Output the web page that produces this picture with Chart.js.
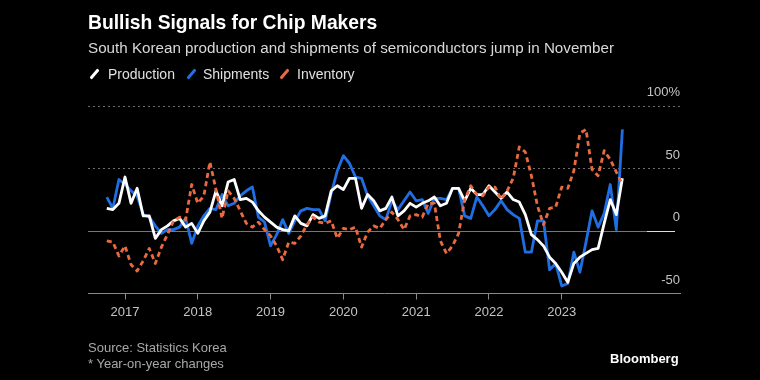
<!DOCTYPE html>
<html><head><meta charset="utf-8">
<script src="https://cdn.jsdelivr.net/npm/chart.js@4/dist/chart.umd.min.js"></script>
<style>
html,body{margin:0;padding:0;background:#000;width:760px;height:380px;overflow:hidden;font-family:"Liberation Sans",Arial,sans-serif;}
#wrap{position:relative;width:760px;height:380px;}
canvas{position:absolute;left:0;top:0;}
.t{position:absolute;white-space:nowrap;line-height:1;}
#title{left:88px;top:13px;font-size:19.3px;font-weight:bold;color:#fff;}
#sub{left:88px;top:40px;font-size:15.2px;color:#d9d9d9;}
.lg{position:absolute;top:67px;font-size:14px;color:#e0e0e0;line-height:1;white-space:nowrap;}
.sw{position:absolute;top:68px;width:3px;height:12px;transform:rotate(40deg);border-radius:1px;}
#src{left:88px;top:341px;font-size:13px;color:#a8a8a8;}
#note{left:88px;top:357px;font-size:13px;color:#a8a8a8;}
#bb{left:610px;top:352px;font-size:13px;font-weight:bold;color:#fff;}
</style></head>
<body><div id="wrap">
<canvas id="c" width="760" height="380"></canvas>
<div class="t" id="title">Bullish Signals for Chip Makers</div>
<div class="t" id="sub">South Korean production and shipments of semiconductors jump in November</div>
<div class="sw" style="left:93px;background:#fff"></div><div class="lg" style="left:108px">Production</div>
<div class="sw" style="left:190px;background:#1f6fe3"></div><div class="lg" style="left:203px">Shipments</div>
<div class="sw" style="left:283px;background:#ea6a3f"></div><div class="lg" style="left:297px">Inventory</div>
<div class="t" id="src">Source: Statistics Korea</div>
<div class="t" id="note">* Year-on-year changes</div>
<div class="t" id="bb">Bloomberg</div>
</div>
<script>
const months = [
 '2016-10','2016-11','2016-12',
 '2017-01','2017-02','2017-03','2017-04','2017-05','2017-06','2017-07','2017-08','2017-09','2017-10','2017-11','2017-12',
 '2018-01','2018-02','2018-03','2018-04','2018-05','2018-06','2018-07','2018-08','2018-09','2018-10','2018-11','2018-12',
 '2019-01','2019-02','2019-03','2019-04','2019-05','2019-06','2019-07','2019-08','2019-09','2019-10','2019-11','2019-12',
 '2020-01','2020-02','2020-03','2020-04','2020-05','2020-06','2020-07','2020-08','2020-09','2020-10','2020-11','2020-12',
 '2021-01','2021-02','2021-03','2021-04','2021-05','2021-06','2021-07','2021-08','2021-09','2021-10','2021-11','2021-12',
 '2022-01','2022-02','2022-03','2022-04','2022-05','2022-06','2022-07','2022-08','2022-09','2022-10','2022-11','2022-12',
 '2023-01','2023-02','2023-03','2023-04','2023-05','2023-06','2023-07','2023-08','2023-09','2023-10','2023-11'
];
const production = [
 18,17,22,
 43,22,34,12,12,-6,1,4,8,10,3,6,
 -2,8,15,32,20,39,41,25,26,23,16,11,
 7,3,1,0,12,6,4,13,10,12,32,36,
 33,42,42,18,29,24,16,18,27,12,16,22,
 19,22,24,27,20,22,34,34,24,34,29,29,
 36,31,26,31,25,23,13,-3,-7,-12,-21,-26,
 -33,-41,-26,-21,-18,-15,-14,6,25,13,42
];
const shipments = [
 27,18,41,
 37,32,28,13,11,4,-2,1,1,3,10,-10,
 4,12,18,17,29,20,22,28,32,35,11,7,
 -12,-3,9,-2,8,16,18,17,17,8,30,48,
 60,54,43,42,28,20,12,9,24,17,24,31,
 24,25,14,26,26,25,34,34,12,10,27,20,
 12,17,24,17,13,10,-17,-17,8,8,-31,-26,
 -44,-42,-17,-33,-9,16,3,14,37,1,81
];
const inventory = [
 -8,-9,-20,
 -12,-27,-32,-24,-14,-26,-13,-3,8,11,9,37,
 22,28,55,33,10,32,26,16,6,3,7,1,
 -4,-12,-23,-9,-10,-4,5,11,7,6,8,-6,
 2,1,3,-13,-1,4,2,9,15,9,1,12,
 13,11,22,22,-8,-18,-12,-2,25,36,29,28,
 35,35,25,32,42,67,63,44,20,5,18,19,
 35,34,48,78,81,49,44,64,57,47,37
];
const yearLabels = ['2017','2018','2019','2020','2021','2022','2023'];
const yTickValues = [-50, 0, 50, 100];

const toXY = arr => arr.map((v, i) => ({x: i, y: v}));

const gridPlugin = {
  id: 'bbgrid',
  beforeDatasetsDraw(chart) {
    const {ctx, chartArea: a, scales: {y}} = chart;
    ctx.save();
    ctx.lineWidth = 1;
    [100, 50].forEach(v => {
      const py = Math.round(y.getPixelForValue(v)) + 0.5;
      ctx.strokeStyle = '#6e6e6e';
      ctx.setLineDash([2, 3]);
      ctx.beginPath(); ctx.moveTo(a.left, py); ctx.lineTo(a.right + 2, py); ctx.stroke();
    });
    const p0 = Math.round(y.getPixelForValue(0)) + 0.5;
    ctx.setLineDash([]);
    ctx.strokeStyle = '#777';
    ctx.beginPath(); ctx.moveTo(a.left, p0); ctx.lineTo(a.right - 33, p0); ctx.stroke();
    ctx.strokeStyle = '#ddd';
    ctx.beginPath(); ctx.moveTo(a.right - 33, p0); ctx.lineTo(a.right - 5, p0); ctx.stroke();
    ctx.restore();
  }
};

new Chart(document.getElementById('c'), {
  type: 'line',
  data: {
    datasets: [
      {label: 'Inventory', data: toXY(inventory), borderColor: '#ea6a3f', borderWidth: 2.8, borderDash: [5, 3.5], order: 0},
      {label: 'Production', data: toXY(production), borderColor: '#ffffff', borderWidth: 2.8, order: 1},
      {label: 'Shipments', data: toXY(shipments), borderColor: '#1f6fe3', borderWidth: 2.8, order: 2}
    ]
  },
  options: {
    responsive: false, animation: false, maintainAspectRatio: false,
    layout: {padding: {left: 88, right: 80, top: 100, bottom: 50}},
    plugins: {legend: {display: false}, tooltip: {enabled: false}},
    elements: {point: {radius: 0}, line: {tension: 0, borderJoinStyle: 'round', fill: false}},
    scales: {
      x: {
        type: 'linear', min: -3.1, max: 94.5,
        afterBuildTicks: s => { s.ticks = yearLabels.map(yr => ({value: months.indexOf(yr + '-01')})); },
        afterFit: s => { s.height = 36.5; },
        ticks: {
          callback: v => { const m = months[Math.round(v)]; return m ? m.slice(0, 4) : ''; },
          color: '#c4c4c4', font: {size: 13, family: '"Liberation Sans", Arial, sans-serif'},
          padding: 5, maxRotation: 0, autoSkip: false
        },
        grid: {drawOnChartArea: false, drawTicks: true, tickLength: 6, color: '#8a8a8a', tickColor: '#8a8a8a'},
        border: {display: true, color: '#8a8a8a', width: 1}
      },
      y: {
        position: 'right', min: -50, max: 104.5,
        afterBuildTicks: s => { s.ticks = yTickValues.map(v => ({value: v})); },
        afterFit: s => { s.width = 0; },
        ticks: {
          mirror: true, padding: 0, labelOffset: -13,
          color: '#c4c4c4', font: {size: 13, family: '"Liberation Sans", Arial, sans-serif'},
          callback: v => v === 100 ? '100%' : String(v)
        },
        grid: {display: false}, border: {display: false}
      }
    }
  },
  plugins: [gridPlugin]
});
</script>
</body></html>
